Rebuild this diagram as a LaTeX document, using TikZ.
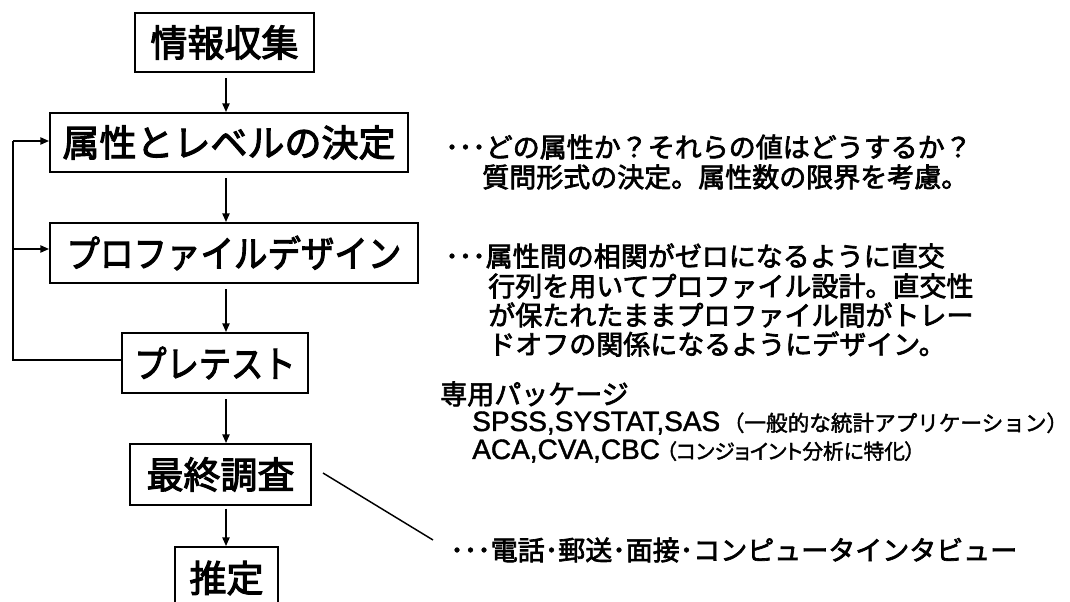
\documentclass[tikz,border=0pt]{standalone}
\usepackage{fontspec}
\newfontfamily\jp{Noto Sans CJK JP}
\newfontfamily\jpp[RawFeature=+palt]{Noto Sans CJK JP}
\newfontfamily\ar{Liberation Sans}
\newcommand\heavytext[2]{\special{pdf:literal direct 2 Tr #1 w}#2\special{pdf:literal direct 0 Tr}}
\usetikzlibrary{arrows.meta}
\begin{document}
\begin{tikzpicture}[x=0.75pt,y=-0.75pt,
  box/.style={draw,line width=1.5pt,inner sep=0pt,font=\jp\fontsize{27.75}{30}\selectfont},
  arr/.style={line width=1.1pt,-{Triangle[length=6.5pt,width=5.5pt]}},
  ln/.style={line width=1.1pt},
  txt/.style={anchor=west,inner sep=0pt,font=\jp\fontsize{20.25}{22}\selectfont}]
\useasboundingbox (0,0) rectangle (1070,602);
\fill[white] (0,0) rectangle (1070,602);
% boxes
\node[box,minimum width=134.25pt,minimum height=44.25pt] (info) at (224.5,42.5) {\heavytext{0.8}{情報収集}};
\node[box,minimum width=268.5pt,minimum height=44.25pt] (attr) at (229,142.5) {\heavytext{0.8}{属性とレベルの決定}};
\node[box,minimum width=276pt,minimum height=45pt] (prof) at (234,253) {\scalebox{0.905}[1]{\heavytext{0.8}{プロファイルデザイン}}};
\node[box,minimum width=139.5pt,minimum height=45pt] (pret) at (215,363) {\scalebox{0.87}[1]{\heavytext{0.8}{プレテスト}}};
\node[box,minimum width=135.75pt,minimum height=45.75pt] (fin) at (220.5,474.5) {\heavytext{0.8}{最終調査}};
\node[box,minimum width=77.25pt,minimum height=46.5pt] (est) at (226.5,578) {\heavytext{0.8}{推定}};
% main arrows
\coordinate (ax) at (226,0);
\draw[arr,shorten <=4pt] (info.south -| ax) -- (attr.north -| ax);
\draw[arr,shorten <=4pt] (attr.south -| ax) -- (prof.north -| ax);
\draw[arr,shorten <=4pt] (prof.south -| ax) -- (pret.north -| ax);
\draw[arr,shorten <=4pt] (pret.south -| ax) -- (fin.north -| ax);
\draw[arr,shorten <=2pt] (fin.south -| ax) -- (est.north -| ax);
% feedback loop
\coordinate (la) at (13,141);
\coordinate (lp) at (13,249);
\coordinate (lr) at (13,360);
\draw[ln] (pret.west |- lr) -- (lr) -- (la);
\draw[arr] (la) -- (attr.west |- la);
\draw[arr] (lp) -- (prof.west |- lp);
% right-hand texts
\node[txt] (t1a) at (445,147) {\heavytext{0.5}{･･･どの属性か？それらの値はどうするか？}};
\node[txt] (t1b) at (482,177) {\heavytext{0.5}{質問形式の決定。属性数の限界を考慮。}};
\node[txt] (t2a) at (445,256) {\heavytext{0.5}{･･･属性間の相関がゼロになるように直交}};
\node[txt] (t2b) at (488,286) {\heavytext{0.5}{行列を用いてプロファイル設計。直交性}};
\node[txt] (t2c) at (488,315) {\heavytext{0.5}{が保たれたままプロファイル間がトレー}};
\node[txt] (t2d) at (488,344) {\heavytext{0.5}{ドオフの関係になるようにデザイン。}};
\node[txt] (pk) at (440,394) {\heavytext{0.5}{専用パッケージ}};
\node[txt] (sp) at (472,423) {\heavytext{0.3}{{\ar\fontsize{21}{23}\selectfont SPSS,SYSTAT,SAS}\hspace{2pt}{\jp\fontsize{16.2}{17}\selectfont （一般的な統計アプリケーション）}}};
\node[txt] (ac) at (472,451) {\heavytext{0.3}{{\ar\fontsize{21}{23}\selectfont ACA,CVA,CBC} {\jpp\fontsize{15.5}{17}\selectfont （コンジョイント分析に特化）}}};
\node[txt] (tel) at (450,550) {\heavytext{0.5}{･･･電話･郵送･面接･コンピュータインタビュー}};
% diagonal connector
\coordinate (d1) at (323,473);
\coordinate (d2) at (433,540);
\draw[ln] (d1) -- (d2);
\end{tikzpicture}
\end{document}
